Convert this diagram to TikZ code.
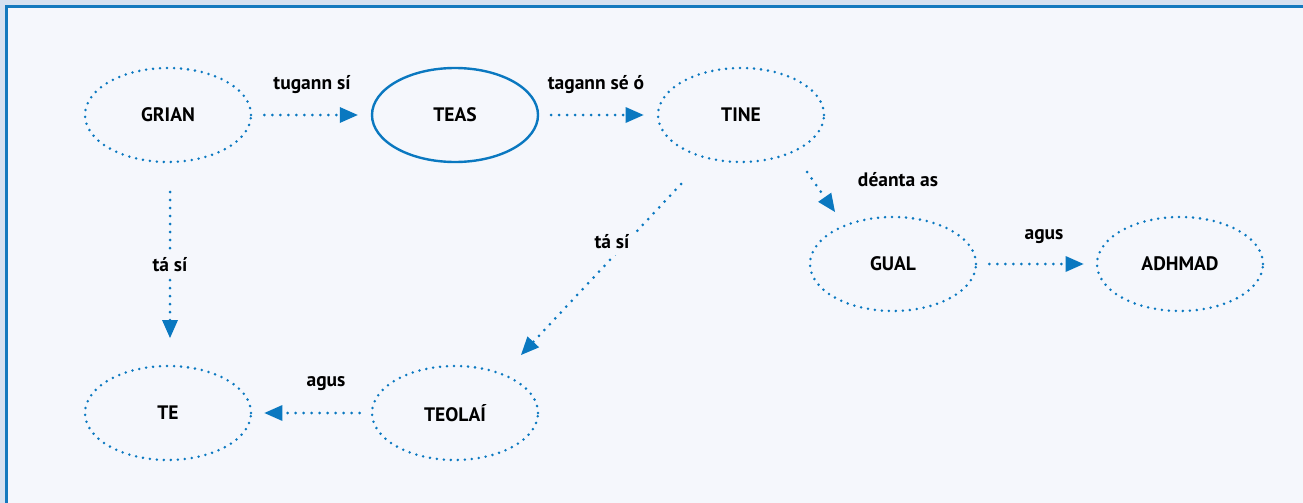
\documentclass[tikz,border=0pt]{standalone}
\usepackage{fontspec}
\setmainfont{PT Sans}
\usetikzlibrary{shapes.geometric,arrows.meta,calc}
\definecolor{frameblue}{HTML}{1479BE}
\definecolor{outerbg}{HTML}{D6E1F0}
\definecolor{innerbg}{HTML}{F5F7FC}
\definecolor{dotblue}{HTML}{0A78C0}
\tikzset{
  concept/.style={ellipse, minimum width=166pt, minimum height=94pt, inner sep=0pt,
    font=\fontsize{19.5}{22}\selectfont\bfseries},
  dotted concept/.style={concept, draw=dotblue, line width=2.8pt, dash pattern=on 0pt off 7pt, line cap=round},
  solid concept/.style={concept, draw=dotblue, line width=2.4pt},
  link/.style={draw=dotblue, line width=3pt, dash pattern=on 0pt off 8pt, line cap=round,
    -{Triangle[length=18pt,width=16pt,fill=dotblue,line width=0pt,round=false]}},
  lbl/.style={font=\fontsize{19.5}{22}\selectfont\bfseries, inner sep=2pt},
  lblfill/.style={lbl, fill=innerbg, inner sep=6pt}
}
\begin{document}
\begin{tikzpicture}[x=1pt,y=-1pt]
\useasboundingbox (0,0) rectangle (1303,503);
\fill[outerbg] (0,0) rectangle (1303,503);
\fill[innerbg] (6.5,6.5) rectangle (1303,503);
\draw[frameblue, line width=3pt] (6.5,520) -- (6.5,6.5) -- (1320,6.5);

\node[dotted concept] (grian) at (168,115) {GRIAN};
\node[solid concept] (teas) at (455,115) {TEAS};
\node[dotted concept] (tine) at (741,115) {TINE};
\node[dotted concept] (gual) at (893,264) {GUAL};
\node[dotted concept] (adhmad) at (1180,264) {ADHMAD};
\node[dotted concept] (te) at (168,413) {TE};
\node[dotted concept] (teolai) at (455,413) {TEOLAÍ};

\draw[link] ($(grian.east)+(12,0)$) -- ($(teas.west)+(-13,0)$);
\node[lbl] (l1) at (312,85) {tugann sí};
\draw[link] ($(teas.east)+(12,0)$) -- ($(tine.west)+(-13,0)$);
\node[lbl] (l2) at (596,85) {tagann sé ó};
\draw[link] ($(tine.center)+(66,57)$) -- ($(gual.center)+(-58,-52)$);
\node[lbl] (l3) at (898,180) {déanta as};
\draw[link] ($(gual.east)+(12,0)$) -- ($(adhmad.west)+(-12,0)$);
\node[lbl] (l4) at (1044,237) {agus};
\draw[link] ($(grian.center)+(2,77)$) -- ($(te.center)+(2,-75)$);
\node[lblfill] (l5) at (170,265) {tá sí};
\draw[link] ($(tine.center)+(-60,69)$) -- ($(teolai.center)+(66,-58)$);
\node[lblfill] (l6) at (612,242) {tá sí};
\draw[link] ($(teolai.west)+(-11,0)$) -- ($(te.east)+(12,0)$);
\node[lbl] (l7) at (326,384) {agus};
\end{tikzpicture}
\end{document}
